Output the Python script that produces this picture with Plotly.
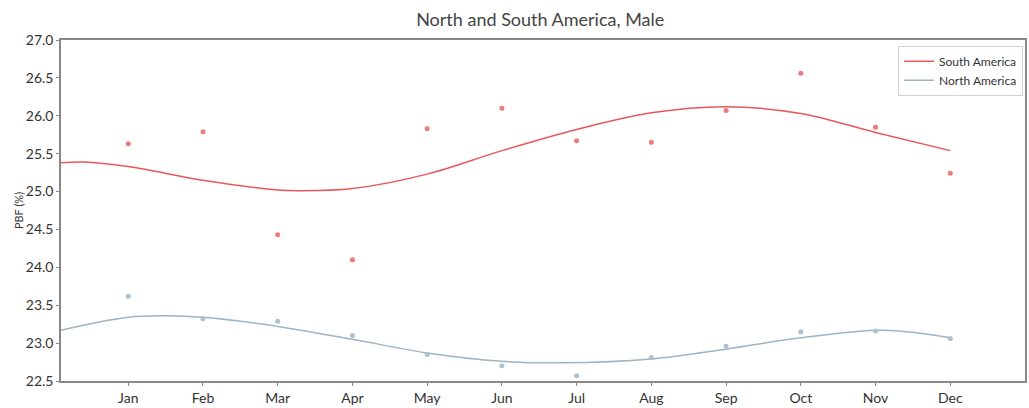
import plotly.graph_objects as go

# Monthly observed PBF values (month 1 = Jan)
months = list(range(1, 13))
month_labels = ["Jan", "Feb", "Mar", "Apr", "May", "Jun",
                "Jul", "Aug", "Sep", "Oct", "Nov", "Dec"]

south_obs = [25.63, 25.79, 24.43, 24.10, 25.83, 26.10,
             25.67, 25.65, 26.07, 26.56, 25.85, 25.24]
north_obs = [23.62, 23.32, 23.29, 23.10, 22.85, 22.70,
             22.57, 22.81, 22.96, 23.15, 23.16, 23.06]

# Fitted curves
south_fit_x = [0.1, 0.4, 1, 2, 3, 3.3, 4, 5, 6, 7, 8, 9, 10, 11, 12]
south_fit = [25.38, 25.39, 25.33, 25.15, 25.02, 25.01, 25.04, 25.23,
             25.54, 25.82, 26.04, 26.12, 26.03, 25.78, 25.54]
north_fit_x = [0.1, 1, 1.5, 2, 3, 4, 5, 6, 6.8, 8, 9, 10, 11.1, 12]
north_fit = [23.17, 23.34, 23.36, 23.34, 23.22, 23.05, 22.87, 22.76,
             22.74, 22.79, 22.92, 23.07, 23.17, 23.07]

RED_LINE = "#e8575a"
RED_DOT = "#ee7b7b"
BLUE_LINE = "#9db3c6"
BLUE_DOT = "#adc0cf"
AXIS = "#888888"
FONT = "Lato"

fig = go.Figure()

fig.add_trace(go.Scatter(
    x=south_fit_x, y=south_fit, mode="lines", name="South America",
    line=dict(color=RED_LINE, width=1.5, shape="spline", smoothing=1.0),
))
fig.add_trace(go.Scatter(
    x=north_fit_x, y=north_fit, mode="lines", name="North America",
    line=dict(color=BLUE_LINE, width=1.5, shape="spline", smoothing=1.0),
))
fig.add_trace(go.Scatter(
    x=months, y=south_obs, mode="markers", showlegend=False,
    marker=dict(color=RED_DOT, size=5),
))
fig.add_trace(go.Scatter(
    x=months, y=north_obs, mode="markers", showlegend=False,
    marker=dict(color=BLUE_DOT, size=5),
))

fig.update_layout(
    width=1029, height=408,
    margin=dict(l=61, r=2, t=40, b=23),
    paper_bgcolor="white", plot_bgcolor="white",
    font=dict(family=FONT, color="#333333"),
    title=dict(text="North and South America, Male", x=0.525, xanchor="center",
               y=0.951, yanchor="middle", font=dict(size=18, color="#444444")),
    showlegend=True,
    legend=dict(x=0.998, y=0.983, xanchor="right", yanchor="top",
                bgcolor="white", bordercolor="#d0d0d0", borderwidth=1,
                font=dict(size=12, color="#333333"), tracegroupgap=0),
)

fig.update_xaxes(
    range=[0.1, 13], tickmode="array", tickvals=months, ticktext=month_labels,
    showgrid=False, zeroline=False, showline=True, linecolor=AXIS, linewidth=1.5,
    mirror=True, ticks="outside", ticklen=3, tickcolor=AXIS,
    tickfont=dict(size=14, color="#333333"),
)
fig.update_yaxes(
    range=[22.5, 27.0], dtick=0.5, tickformat=".1f",
    showgrid=False, zeroline=False, showline=True, linecolor=AXIS, linewidth=1.5,
    mirror=True, ticks="outside", ticklen=3, tickcolor=AXIS,
    tickfont=dict(size=14, color="#333333"),
    title=dict(text="PBF (%)", font=dict(size=11, color="#333333"), standoff=0),
)

# drop the default page margin so the figure sits at the window's corner
fig.write_html(
    "out.html",
    config={"displayModeBar": False},
    post_script="document.body.style.margin='0';",
)
